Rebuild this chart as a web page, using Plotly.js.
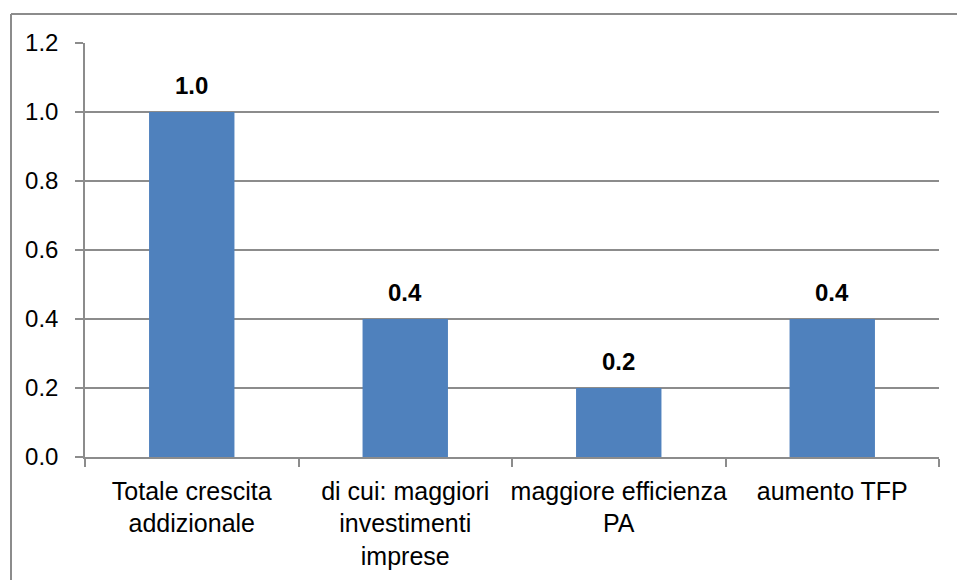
<!DOCTYPE html>
<html>
<head>
<meta charset="utf-8">
<script src="https://cdn.plot.ly/plotly-3.0.1.min.js"></script>
<style>
  html, body { margin: 0; padding: 0; background: #ffffff; }
  #chart { width: 957px; height: 580px; }
</style>
</head>
<body>
<div id="chart"></div>
<script>
const categories = [
  "Totale crescita<br>addizionale",
  "di cui: maggiori<br>investimenti<br>imprese",
  "maggiore efficienza<br>PA",
  "aumento TFP"
];
const values = [1.0, 0.4, 0.2, 0.4];
const valueLabels = ["1.0", "0.4", "0.2", "0.4"];
const yTicks = [0, 0.2, 0.4, 0.6, 0.8, 1.0, 1.2];
const yTickLabels = ["0.0", "0.2", "0.4", "0.6", "0.8", "1.0", "1.2"];

const FONT = "'Liberation Sans', Arial, sans-serif";
const GRID = "#8c8c8c";

const trace = {
  type: "bar",
  x: categories,
  y: values,
  marker: { color: "#4F81BD", line: { width: 0 } },
  hoverinfo: "x+y"
};

const annotations = categories.map((c, i) => ({
  x: c, y: values[i], xref: "x", yref: "y",
  text: "<b>" + valueLabels[i] + "</b>",
  showarrow: false, yanchor: "bottom", yshift: 11,
  font: { family: FONT, size: 24, color: "#000000" }
}));

const layout = {
  width: 957, height: 580,
  margin: { l: 85, r: 18, t: 43, b: 123 },
  paper_bgcolor: "#ffffff",
  plot_bgcolor: "#ffffff",
  showlegend: false,
  bargap: 0.6,
  font: { family: FONT, color: "#000000" },
  xaxis: {
    type: "category",
    tickson: "boundaries",
    ticks: "outside", ticklen: 8, tickcolor: GRID, tickwidth: 1.5,
    showline: true, linecolor: GRID, linewidth: 1.5,
    showgrid: false,
    tickfont: { family: FONT, size: 25, color: "#000000" },
    ticklabelstandoff: 11,
    tickangle: 0,
    fixedrange: true
  },
  yaxis: {
    range: [0, 1.2],
    tickvals: yTicks, ticktext: yTickLabels,
    ticks: "outside", ticklen: 8, tickcolor: GRID, tickwidth: 1.5,
    showline: true, linecolor: GRID, linewidth: 1.5,
    showgrid: true, gridcolor: GRID, gridwidth: 1.5,
    zeroline: false,
    tickfont: { family: FONT, size: 24, color: "#000000" },
    ticklabelstandoff: 12,
    fixedrange: true
  },
  annotations: annotations,
  shapes: [
    { type: "line", xref: "paper", yref: "paper",
      x0: (11 - 85) / 854, x1: (957 - 85) / 854 + 0.01, y0: (580 - 123 - 14) / 414, y1: (580 - 123 - 14) / 414,
      line: { color: GRID, width: 2 } },
    { type: "line", xref: "paper", yref: "paper",
      x0: (11 - 85) / 854, x1: (11 - 85) / 854, y0: -123 / 414 - 0.01, y1: (580 - 123 - 14) / 414,
      line: { color: GRID, width: 2 } }
  ]
};

Plotly.newPlot("chart", [trace], layout, { displayModeBar: false, staticPlot: false });
</script>
</body>
</html>
